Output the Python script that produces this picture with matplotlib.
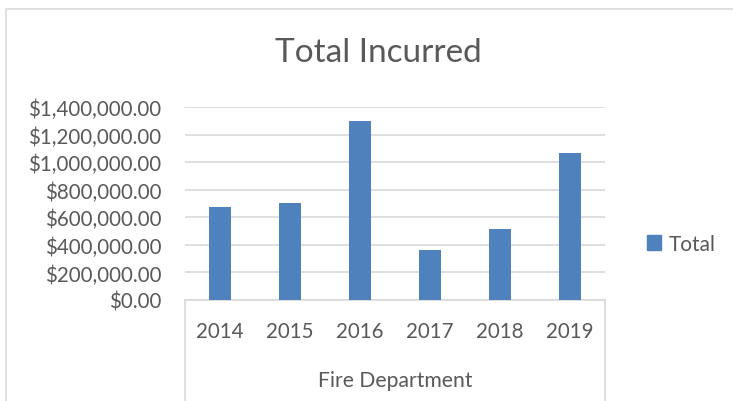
import matplotlib
matplotlib.use("Agg")
import matplotlib.pyplot as plt
from matplotlib.patches import Rectangle, Patch
from matplotlib.lines import Line2D
from matplotlib.ticker import FuncFormatter

years = ["2014", "2015", "2016", "2017", "2018", "2019"]
totals = [675000, 704000, 1298000, 366000, 512000, 1069000]
group_label = "Fire Department"
title = "Total Incurred"
series_name = "Total"

BAR = "#4f81bd"
TXT = "#595959"
GRID = "#d9d9d9"

plt.rcParams["font.family"] = ["Lato", "DejaVu Sans"]

W, H = 733, 402
fig = plt.figure(figsize=(W / 100, H / 100), dpi=100)

# chart border
fig.patches.append(Rectangle((6 / W, -0.1), 1.0, (H - 10) / H + 0.1, transform=fig.transFigure,
                             fill=False, edgecolor=GRID, linewidth=1.2))

left, right, top, bottom = 185, 605, 108, 301
ax = fig.add_axes([left / W, 1 - bottom / H, (right - left) / W, (bottom - top) / H])
x = range(len(years))
ax.bar(x, totals, width=0.31, color=BAR, zorder=3)
ax.set_xlim(-0.5, len(years) - 0.5)
ax.set_ylim(0, 1400000)
ax.set_yticks(range(0, 1400001, 200000))
ax.yaxis.set_major_formatter(FuncFormatter(lambda v, p: f"${v:,.2f}"))
ax.grid(axis="y", color=GRID, linewidth=1.2, zorder=0)
for s in ["top", "right", "left"]:
    ax.spines[s].set_visible(False)
ax.spines["bottom"].set_color(GRID)
ax.spines["bottom"].set_linewidth(1.2)
ax.tick_params(axis="y", length=0, labelsize=14.8, labelcolor=TXT, pad=17)
ax.set_xticks(list(x))
ax.set_xticklabels(years)
ax.tick_params(axis="x", length=0, labelsize=14.8, labelcolor=TXT, pad=15)

# multi-level category box
for xp in (left, right):
    fig.add_artist(Line2D([xp / W, xp / W], [1 - bottom / H, 0], color=GRID, linewidth=1.2))
fig.text((left + right) / 2 / W, 1 - 381 / H, group_label, ha="center", va="center",
         fontsize=15.2, color=TXT)

fig.text(378 / W, 1 - 53 / H, title, ha="center", va="center", fontsize=24, color=TXT)

fig.legend(handles=[Patch(color=BAR, label=series_name)], loc="center left",
           bbox_to_anchor=(628 / W, 1 - 245 / H), frameon=False, fontsize=15,
           handlelength=0.7, handleheight=0.7, handletextpad=0.35, labelcolor=TXT)

fig.savefig("out.png", dpi=100)
